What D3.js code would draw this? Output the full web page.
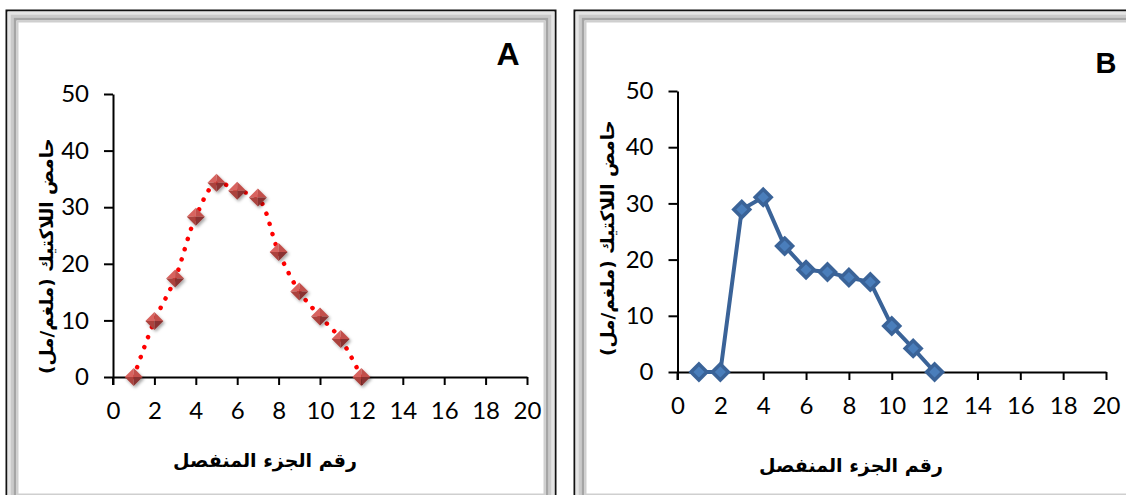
<!DOCTYPE html>
<html>
<head>
<meta charset="utf-8">
<script src="https://cdn.jsdelivr.net/npm/d3@7"></script>
<style>
  html, body { margin: 0; padding: 0; background: #fff; }
  svg { display: block; }
</style>
</head>
<body>
<svg id="chart" width="1126" height="495"></svg>
<script>
// ---------- data ----------
const fractionsA = [1, 2, 3, 4, 5, 6, 7, 8, 9, 10, 11, 12];
const lacticA    = [0, 9.9, 17.4, 28.3, 34.3, 32.9, 31.7, 22.1, 15.1, 10.7, 6.7, 0];
const fractionsB = [1, 2, 3, 4, 5, 6, 7, 8, 9, 10, 11, 12];
const lacticB    = [0, 0, 28.9, 31.1, 22.4, 18.2, 17.8, 16.8, 16.0, 8.2, 4.2, 0];
const xTicks = [0, 2, 4, 6, 8, 10, 12, 14, 16, 18, 20];
const yTicks = [0, 10, 20, 30, 40, 50];
const xTitle = "رقم الجزء المنفصل";
const yTitle = "حامض اللاكتيك (ملغم/مل)";
const panelLetters = ["A", "B"];

const svg = d3.select("#chart");
const defs = svg.append("defs");
const sh = defs.append("filter").attr("id", "shadow").attr("x", "-50%").attr("y", "-50%").attr("width", "200%").attr("height", "200%");
sh.append("feDropShadow").attr("dx", 1.5).attr("dy", 2).attr("stdDeviation", 1.5).attr("flood-color", "#000").attr("flood-opacity", 0.35);

function frame(x0, y0, x1, y1) {
  const g = svg.append("g");
  const layers = [
    {inset: 0.5, w: 2, c: "#111"},
    {inset: 3, w: 3, c: "#e4e4e4"},
    {inset: 6, w: 3, c: "#cacaca"},
    {inset: 9, w: 3, c: "#a5a5a5"},
    {inset: 11.5, w: 2, c: "#cfcfcf"}
  ];
  layers.forEach(l => {
    g.append("rect")
      .attr("x", x0 + l.inset).attr("y", y0 + l.inset)
      .attr("width", x1 - x0 - 2 * l.inset).attr("height", y1 - y0 - 2 * l.inset)
      .attr("fill", "none").attr("stroke", l.c).attr("stroke-width", l.w);
  });
}

frame(6, 10, 556, 506);
frame(574, 10, 1139, 506);

function panel(cfg) {
  const x = d3.scaleLinear().domain([0, 20]).range([cfg.x0, cfg.x1]);
  const y = d3.scaleLinear().domain([0, 50]).range([cfg.y0, cfg.y1]);
  const g = svg.append("g");

  const xa = g.append("g").attr("transform", `translate(0,${cfg.y0})`)
    .call(d3.axisBottom(x).tickValues(xTicks).tickSize(8).tickSizeOuter(0).tickPadding(17));
  const ya = g.append("g").attr("transform", `translate(${cfg.x0},0)`)
    .call(d3.axisLeft(y).tickValues(yTicks).tickSize(9).tickSizeOuter(0).tickPadding(15));
  [xa, ya].forEach(a => {
    a.attr("font-size", null).attr("font-family", null);
    a.selectAll("path, line").attr("stroke", "#000").attr("stroke-width", 2);
    a.selectAll("text").attr("fill", "#000").style("font-family", "Lato, 'Open Sans', sans-serif").style("font-size", "24px");
  });
  g.append("line").attr("x1", cfg.x0).attr("x2", cfg.x0).attr("y1", cfg.y0).attr("y2", cfg.y0 + 8)
    .attr("stroke", "#000").attr("stroke-width", 2);

  g.append("text").attr("x", cfg.xtx).attr("y", cfg.xty)
    .attr("text-anchor", "middle").attr("dominant-baseline", "middle")
    .attr("direction", "rtl")
    .style("font-family", "'DejaVu Sans', sans-serif").style("font-weight", "bold").style("font-size", "19px")
    .text(xTitle);
  g.append("text").attr("transform", `translate(${cfg.ytx},${cfg.yty}) rotate(-90)`)
    .attr("text-anchor", "middle").attr("dominant-baseline", "middle")
    .attr("direction", "rtl")
    .style("font-family", "'DejaVu Sans', sans-serif").style("font-weight", "bold").style("font-size", "18.5px")
    .text(yTitle);
  g.append("text").attr("x", cfg.lx).attr("y", cfg.ly)
    .attr("text-anchor", "middle").attr("dominant-baseline", "central")
    .style("font-family", "'Liberation Sans', Arial, sans-serif").style("font-weight", "bold").style("font-size", cfg.lsize + "px")
    .text(cfg.letter);

  const pts = cfg.xs.map((d, i) => [d, cfg.ys[i]]);
  return {x, y, g, pts};
}

// Panel A
const A = panel({x0: 113, x1: 527, y0: 377, y1: 94, xtx: 265, xty: 461, ytx: 48, yty: 256,
  lx: 508, ly: 54, lsize: 32, letter: panelLetters[0], xs: fractionsA, ys: lacticA});
A.g.append("path").datum(A.pts)
  .attr("d", d3.line().x(d => A.x(d[0])).y(d => A.y(d[1])).curve(d3.curveCatmullRom.alpha(0.5)))
  .attr("fill", "none").attr("stroke", "#ff0000").attr("stroke-width", 4.5)
  .attr("stroke-linecap", "round").attr("stroke-dasharray", "0.1 10.5");
const s = 9;
const facets = [
  {p: [[0, 0], [-s, 0], [0, -s]], c: "#d8645f"},
  {p: [[0, 0], [0, -s], [s, 0]], c: "#c2504c"},
  {p: [[0, 0], [-s, 0], [0, s]], c: "#ab423e"},
  {p: [[0, 0], [s, 0], [0, s]], c: "#8a3330"}
];
const mA = A.g.selectAll("g.mA").data(A.pts).join("g").attr("class", "mA")
  .attr("transform", d => `translate(${A.x(d[0])},${A.y(d[1])})`)
  .attr("filter", "url(#shadow)");
facets.forEach(f => {
  mA.append("path").attr("d", "M" + f.p.map(q => q.join(",")).join("L") + "Z").attr("fill", f.c);
});

// Panel B
const B = panel({x0: 677.5, x1: 1106, y0: 372, y1: 91, xtx: 851, xty: 466, ytx: 609, yty: 238,
  lx: 1106, ly: 63, lsize: 29, letter: panelLetters[1], xs: fractionsB, ys: lacticB});
B.g.append("path").datum(B.pts)
  .attr("d", d3.line().x(d => B.x(d[0])).y(d => B.y(d[1])))
  .attr("fill", "none").attr("stroke", "#3a6398").attr("stroke-width", 4)
  .attr("stroke-linejoin", "round");
B.g.selectAll("path.mB").data(B.pts).join("path").attr("class", "mB")
  .attr("transform", d => `translate(${B.x(d[0])},${B.y(d[1])})`)
  .attr("d", "M0,-8L8,0L0,8L-8,0Z")
  .attr("fill", "#4a7ebb").attr("stroke", "#3a6398").attr("stroke-width", 3.5)
  .attr("stroke-linejoin", "miter");
</script>
</body>
</html>
